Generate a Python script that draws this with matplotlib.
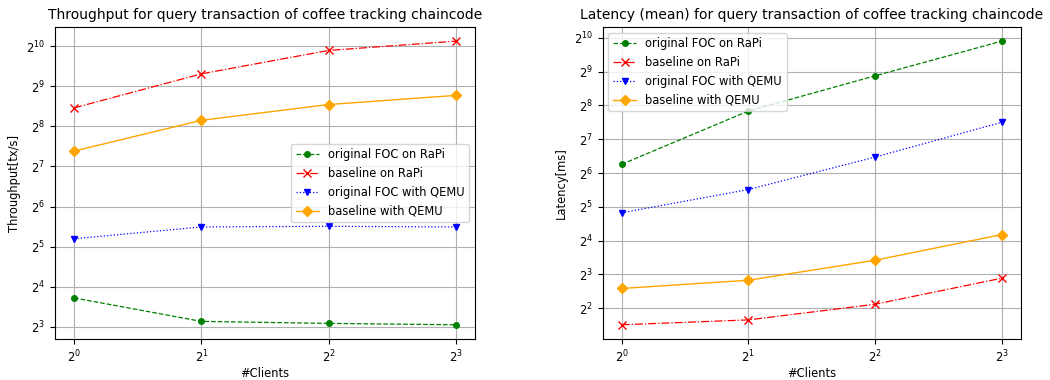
import matplotlib
matplotlib.use('Agg')
import matplotlib.pyplot as plt

clients = [1, 2, 4, 8]
labels = ['original FOC on RaPi', 'baseline on RaPi',
          'original FOC with QEMU', 'baseline with QEMU']

# throughput [tx/s]
tp_foc_rapi = [13.2, 8.8, 8.5, 8.3]
tp_base_rapi = [352, 634, 950, 1115]
tp_foc_qemu = [36.7, 45, 45.5, 45]
tp_base_qemu = [167, 284, 373, 437]

# latency [ms]
lat_foc_rapi = [76.5, 228, 469, 955]
lat_base_rapi = [2.85, 3.15, 4.34, 7.4]
lat_foc_qemu = [28.3, 45.6, 88.6, 181]
lat_base_qemu = [6.0, 7.1, 10.7, 18.1]

plt.rcParams['font.size'] = 8.3
plt.rcParams['axes.linewidth'] = 0.8
plt.rcParams['grid.linewidth'] = 0.8

styles = [
    dict(color='green', linestyle='--', marker='o', markersize=4, linewidth=0.9),
    dict(color='red', linestyle='-.', marker='x', markersize=5.5, linewidth=0.9),
    dict(color='blue', linestyle=':', marker='v', markersize=4.5, linewidth=0.9),
    dict(color='orange', linestyle='-', marker='D', markersize=5, linewidth=1.0),
]


def draw(ax, series, title, ylabel, loc):
    for ys, lab, st in zip(series, labels, styles):
        ax.plot(clients, ys, label=lab, **st)
    ax.set_xscale('log', base=2)
    ax.set_yscale('log', base=2)
    ax.grid(True)
    ax.set_title(title, fontsize=10)
    ax.set_xlabel('#Clients', labelpad=1)
    ax.set_ylabel(ylabel)
    ax.legend(loc=loc)


fig = plt.figure(figsize=(10.5, 3.8), dpi=100)
ax1 = fig.add_axes([0.0524, 0.108, 0.40, 0.821])
ax2 = fig.add_axes([0.574, 0.108, 0.398, 0.821])

draw(ax1, [tp_foc_rapi, tp_base_rapi, tp_foc_qemu, tp_base_qemu],
     'Throughput for query transaction of coffee tracking chaincode',
     'Throughput[tx/s]', 'center right')
draw(ax2, [lat_foc_rapi, lat_base_rapi, lat_foc_qemu, lat_base_qemu],
     'Latency (mean) for query transaction of coffee tracking chaincode',
     'Latency[ms]', 'upper left')

fig.savefig('out.png', dpi=100)
